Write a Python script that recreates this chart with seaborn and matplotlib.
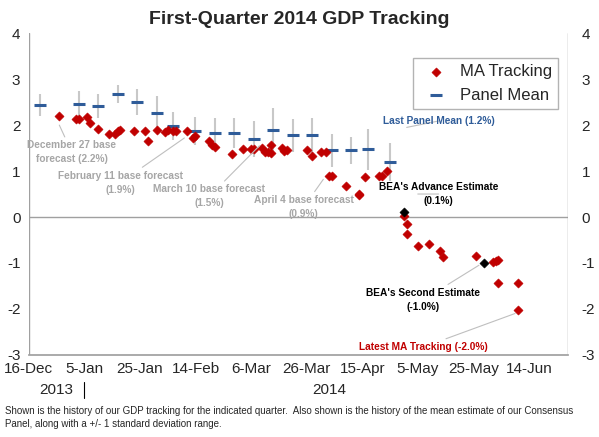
import matplotlib
matplotlib.use("Agg")
import matplotlib.pyplot as plt
import seaborn as sns
import pandas as pd

# days since 16-Dec-2013
ma_days = [11, 17, 18, 21, 22, 25, 29, 31, 32, 33, 38, 42, 43, 46, 49, 50, 52, 53, 57, 59, 60,
           65, 66, 67, 73, 77, 80, 81, 84, 85, 86, 87, 87, 91, 92, 93, 100, 102, 105, 107, 108, 109,
           114, 119, 119, 121, 126, 127, 129, 135, 136, 136, 140, 144, 148, 149, 161, 167, 168, 169,
           169, 176, 176]
ma_vals = [2.20, 2.13, 2.13, 2.17, 2.04, 1.91, 1.80, 1.80, 1.87, 1.89, 1.87, 1.87, 1.65, 1.89, 1.85,
           1.89, 1.87, 1.87, 1.87, 1.72, 1.76, 1.65, 1.57, 1.52, 1.37, 1.48, 1.48, 1.48, 1.50, 1.41,
           1.41, 1.57, 1.39, 1.50, 1.43, 1.46, 1.46, 1.33, 1.41, 1.41, 0.89, 0.89, 0.67, 0.50, 0.48,
           0.87, 0.89, 0.89, 1.00, 0.02, -0.15, -0.37, -0.63, -0.59, -0.74, -0.87, -0.85, -0.98,
           -0.96, -0.93, -1.43, -1.43, -2.02]
bea_days = [135, 164]
bea_vals = [0.1, -1.0]
panel_days = [4, 18, 25, 32, 39, 46, 52, 60, 67, 74, 81, 88, 95, 102, 109, 116, 122, 130]
panel_vals = [2.43, 2.47, 2.42, 2.68, 2.51, 2.27, 1.98, 1.87, 1.83, 1.83, 1.70, 1.89, 1.78, 1.78,
              1.45, 1.45, 1.47, 1.20]
panel_sd = [0.24, 0.27, 0.26, 0.19, 0.28, 0.36, 0.31, 0.31, 0.33, 0.33, 0.40, 0.49, 0.36, 0.38,
            0.36, 0.29, 0.45, 0.42]
tick_days = [0, 20, 40, 60, 80, 100, 120, 140, 160, 180]
tick_labels = ["16-Dec", "5-Jan", "25-Jan", "14-Feb", "6-Mar", "26-Mar", "15-Apr", "5-May",
               "25-May", "14-Jun"]

sns.set_theme(style="white")
plt.rcParams['font.family'] = ['Liberation Sans', 'DejaVu Sans']
plt.rcParams['axes.unicode_minus'] = False
RED = "#C00000"; BLUE = "#2F5C99"; GRAY = "#A6A6A6"

fig = plt.figure(figsize=(5.99, 4.37), dpi=100)
ax = fig.add_axes([0.048, 0.188, 0.9, 0.736])

ma = pd.DataFrame({"d": ma_days, "v": ma_vals})
pn = pd.DataFrame({"d": panel_days, "v": panel_vals, "s": panel_sd})
be = pd.DataFrame({"d": bea_days, "v": bea_vals})

ax.axhline(0, color="#A0A0A0", lw=1, zorder=0)
ax.vlines(pn["d"], pn["v"] - pn["s"], pn["v"] + pn["s"], color="#C8C8C8", lw=1.5, zorder=1)
sns.scatterplot(data=pn, x="d", y="v", marker="_", s=70, color=BLUE, linewidth=2.2, ax=ax,
                label="Panel Mean", zorder=3)
sns.scatterplot(data=ma, x="d", y="v", marker="D", s=22, color=RED, edgecolor=RED, ax=ax,
                label="MA Tracking", zorder=4)
sns.scatterplot(data=be, x="d", y="v", marker="D", s=22, color="black", edgecolor="black",
                ax=ax, zorder=5, legend=False)

ax.set_xlim(0, 194)
ax.set_ylim(-3, 4)
ax.set_xticks(tick_days)
ax.set_xticklabels(tick_labels, fontsize=11)
ax.set_yticks(range(-3, 5))
ax.tick_params(axis="y", labelsize=11, length=0, pad=6)
ax.tick_params(axis="x", length=4, direction="in", color="#A0A0A0", pad=5)
ax.set_xlabel(""); ax.set_ylabel("")
for s in ["top", "right"]:
    ax.spines[s].set_visible(False)
ax.spines["left"].set_visible(False)
ax.spines["bottom"].set_color("#A0A0A0")
ax.axvline(0, color="#A0A0A0", lw=1)
ax.axvline(194, color="#A0A0A0", lw=1)
ax2 = ax.twinx()
ax2.set_ylim(-3, 4); ax2.set_yticks(range(-3, 5))
ax2.tick_params(axis="y", labelsize=11, length=0, pad=10)
for s in ax2.spines.values():
    s.set_visible(False)
ax2.grid(False)

ax.text(10, -3.62, "2013", ha="center", va="top", fontsize=11, clip_on=False)
ax.text(108, -3.62, "2014", ha="center", va="top", fontsize=11, clip_on=False)
ax.plot([20, 20], [-3.6, -3.95], color="black", lw=0.8, clip_on=False)

h, l = ax.get_legend_handles_labels()
order = [l.index("MA Tracking"), l.index("Panel Mean")]
leg = ax.legend([h[i] for i in order], [l[i] for i in order], loc="upper right",
                bbox_to_anchor=(0.998, 0.95), fontsize=12, frameon=True, fancybox=False,
                edgecolor="#A0A0A0", handletextpad=0.4, borderpad=0.4)

fig.suptitle("First-Quarter 2014 GDP Tracking", fontsize=14, fontweight="bold", y=0.975)

def ann(txt, xy, xyt, color, fs=7.3):
    ax.annotate(txt, xy=xy, xytext=xyt, ha="center", va="center", fontsize=fs,
                fontweight="bold", color=color, zorder=6, linespacing=1.5,
                arrowprops=dict(arrowstyle="-", color="#BFBFBF", lw=0.8, shrinkA=0, shrinkB=0))

ann("December 27 base\nforecast (2.2%)", (11, 2.0), (15.5, 1.41), GRAY)
ann("February 11 base forecast\n(1.9%)", (56, 1.72), (33, 0.75), GRAY)
ann("March 10 base forecast\n(1.5%)", (83, 1.55), (65, 0.45), GRAY)
ann("April 4 base forecast\n(0.9%)", (106, 0.82), (99, 0.22), GRAY)
ann("Last Panel Mean (1.2%)", (136, 1.95), (147.5, 2.09), BLUE)
ann("BEA's Advance Estimate\n(0.1%)", (140, 0.50), (147.5, 0.5), "black")
ann("BEA's Second Estimate\n(-1.0%)", (162, -1.05), (142, -1.8), "black")
ann("Latest MA Tracking (-2.0%)", (175, -2.1), (142, -2.83), RED)

fig.text(0.008, 0.045, "Shown is the history of our GDP tracking for the indicated quarter.  Also shown is the history of the mean estimate of our Consensus\nPanel, along with a +/- 1 standard deviation range.",
         fontsize=7, va="center", ha="left", linespacing=1.4)

fig.savefig("out.png", dpi=100)
